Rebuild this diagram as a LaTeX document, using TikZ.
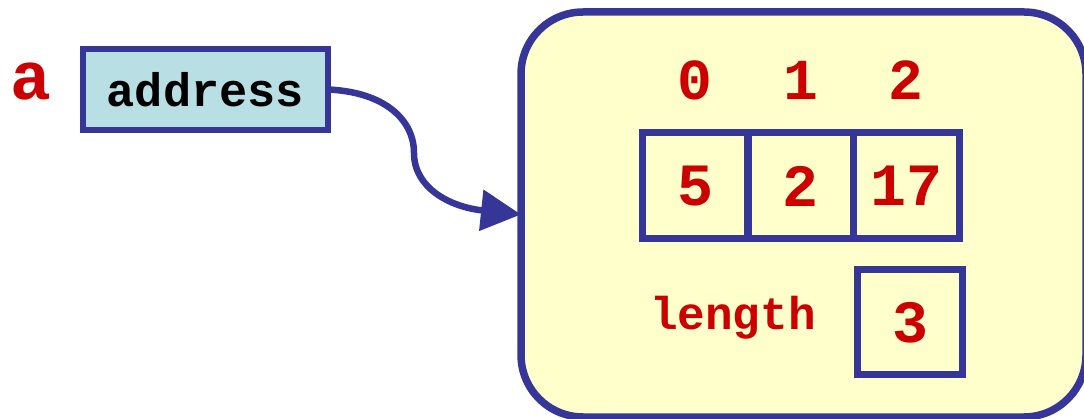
\documentclass[tikz,border=0pt]{standalone}
\usepackage{fontspec}
\setmonofont{Liberation Mono}
\usetikzlibrary{arrows.meta}
\definecolor{frame}{HTML}{363699}
\definecolor{txtred}{HTML}{CC0000}
\definecolor{heapfill}{HTML}{FFFFCC}
\definecolor{varfill}{HTML}{B8E0E4}
\begin{document}
\begin{tikzpicture}[x=1pt,y=-1pt,
  every node/.style={font=\ttfamily\bfseries, inner sep=0pt, outer sep=0pt},
  cellbox/.style={draw=frame, line width=7pt, minimum width=106pt, minimum height=106pt, text=txtred, font=\ttfamily\bfseries\fontsize{60}{60}\selectfont},
  idx/.style={text=txtred, font=\ttfamily\bfseries\fontsize{58}{58}\selectfont},
  link/.style={draw=frame, line width=6.5pt, -{Triangle[length=40pt,width=40pt]}}
]
\useasboundingbox (0,0) rectangle (1084,419);
% heap object
\begin{scope}
\clip (0,0) rectangle (1084,419);
\node[draw=frame, fill=heapfill, line width=7.5pt, rounded corners=62pt,
      minimum width=565pt, minimum height=405pt] (heap) at (803.5,214.5) {};
\end{scope}
% reference variable
\node[text=txtred, font=\ttfamily\bfseries\fontsize{68}{68}\selectfont, anchor=base] (aname) at (31,100) {a};
\node[draw=frame, fill=varfill, line width=5.5pt, minimum width=245pt, minimum height=81pt,
      font=\ttfamily\bfseries\fontsize{47}{47}\selectfont] (addr) at (205.5,89.5) {address};
% array cells
\node[cellbox] (c0) at (695,186) {5};
\node[cellbox] (c1) at (800.5,186) {2};
\node[cellbox] (c2) at (906,186) {17};
% indices
\node[idx] (i0) at (695,80) {0};
\node[idx] (i1) at (800.5,80) {1};
\node[idx] (i2) at (906,80) {2};
% length
\node[text=txtred, font=\ttfamily\bfseries\fontsize{46}{46}\selectfont] (lenlabel) at (733,318) {length};
\node[cellbox, minimum width=105pt, minimum height=105pt] (len) at (910,322.5) {3};
% pointer
\draw[link] (addr.east) .. controls (385,92) and (414,120) .. (414,153)
  .. controls (414,188) and (450,207) .. (heap.west);
\end{tikzpicture}
\end{document}
